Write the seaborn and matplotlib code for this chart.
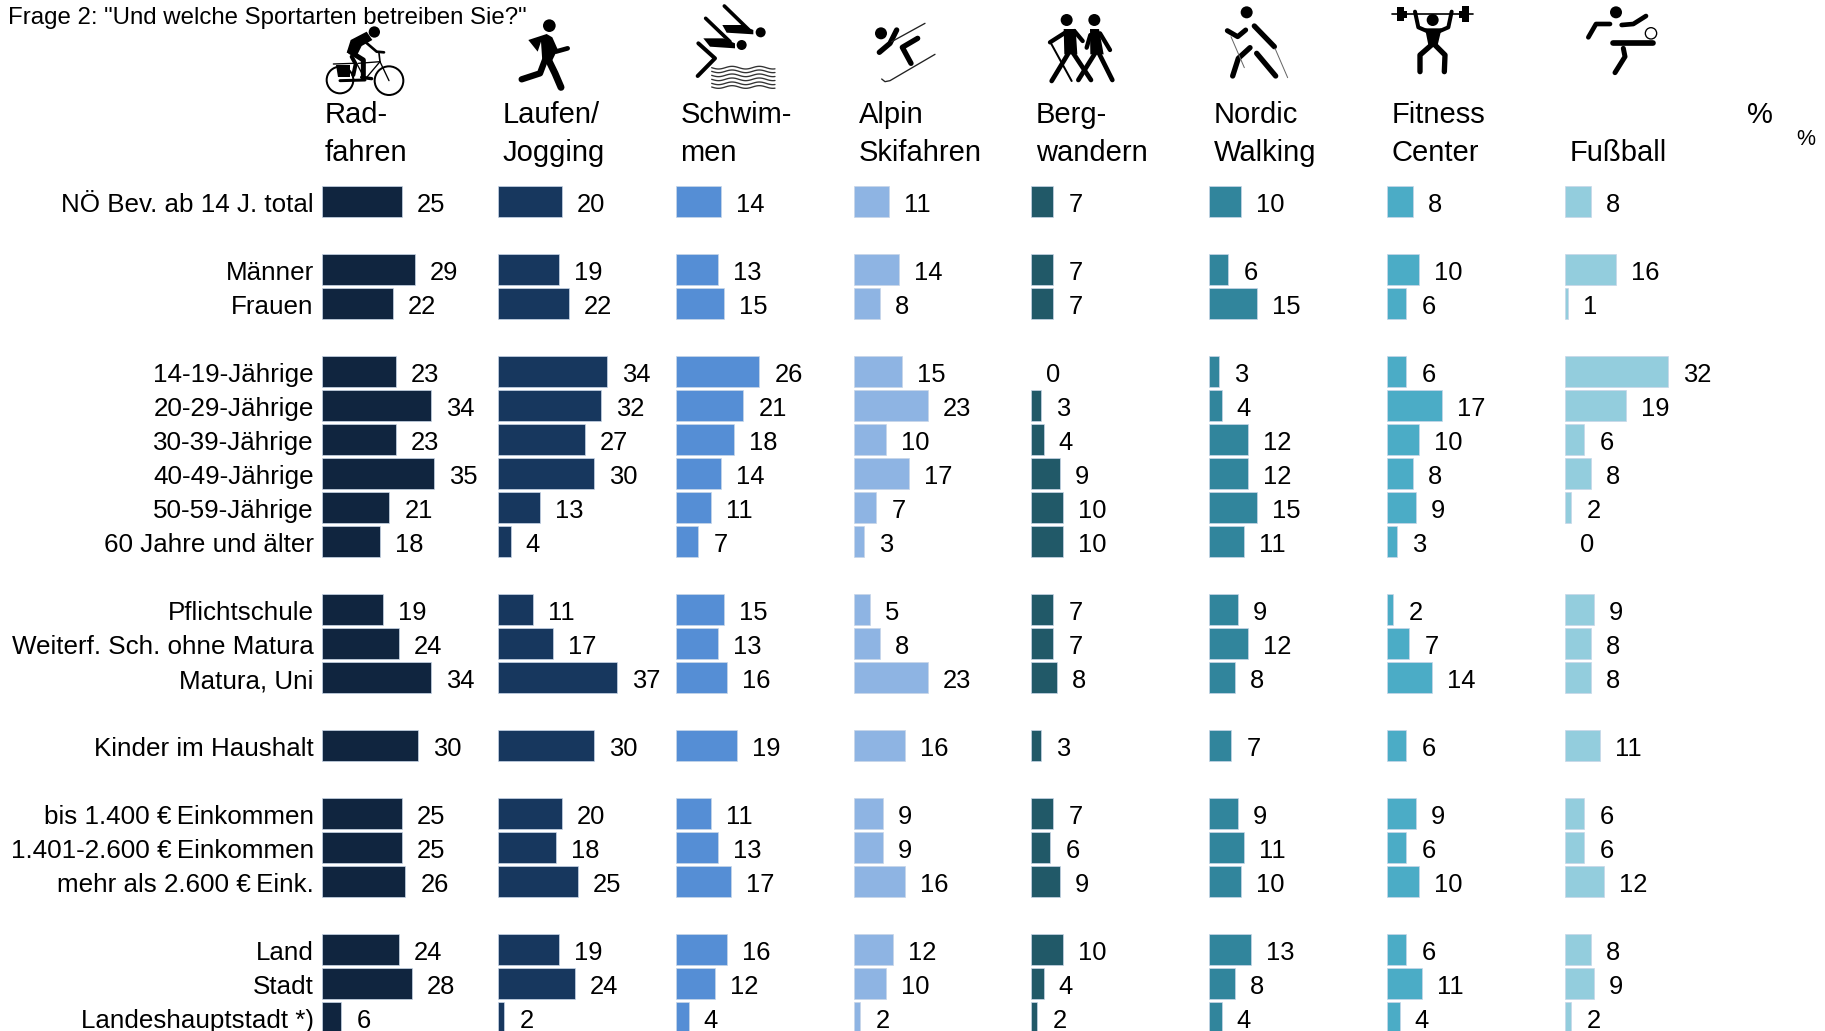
import numpy as np
import pandas as pd
import seaborn as sns
import matplotlib.pyplot as plt
from matplotlib.patches import Circle, Polygon
from matplotlib.transforms import ScaledTranslation

# Row labels per group, groups get one empty row between them
groups = [
    ['NÖ Bev. ab 14 J. total'],
    ['Männer', 'Frauen'],
    ['14-19-Jährige', '20-29-Jährige', '30-39-Jährige', '40-49-Jährige', '50-59-Jährige', '60 Jahre und älter'],
    ['Pflichtschule', 'Weiterf. Sch. ohne Matura', 'Matura, Uni'],
    ['Kinder im Haushalt'],
    ['bis 1.400 €\u2009Einkommen', '1.401-2.600 €\u2009Einkommen', 'mehr als 2.600 €\u2009Eink.'],
    ['Land', 'Stadt', 'Landeshauptstadt *)'],
]

radfahren = [25, 29, 22, 23, 34, 23, 35, 21, 18, 19, 24, 34, 30, 25, 25, 26, 24, 28, 6]
laufen = [20, 19, 22, 34, 32, 27, 30, 13, 4, 11, 17, 37, 30, 20, 18, 25, 19, 24, 2]
schwimmen = [14, 13, 15, 26, 21, 18, 14, 11, 7, 15, 13, 16, 19, 11, 13, 17, 16, 12, 4]
skifahren = [11, 14, 8, 15, 23, 10, 17, 7, 3, 5, 8, 23, 16, 9, 9, 16, 12, 10, 2]
bergwandern = [7, 7, 7, 0, 3, 4, 9, 10, 10, 7, 7, 8, 3, 7, 6, 9, 10, 4, 2]
nordic = [10, 6, 15, 3, 4, 12, 12, 15, 11, 9, 12, 8, 7, 9, 11, 10, 13, 8, 4]
fitness = [8, 10, 6, 6, 17, 10, 8, 9, 3, 2, 7, 14, 6, 9, 6, 10, 6, 11, 4]
fussball = [8, 16, 1, 32, 19, 6, 8, 2, 0, 9, 8, 8, 11, 6, 6, 12, 8, 9, 2]

series = [radfahren, laufen, schwimmen, skifahren, bergwandern, nordic, fitness, fussball]
headers = [('Rad-', 'fahren'), ('Laufen/', 'Jogging'), ('Schwim-', 'men'), ('Alpin', 'Skifahren'),
           ('Berg-', 'wandern'), ('Nordic', 'Walking'), ('Fitness', 'Center'), ('', 'Fußball')]
colors = ['#10253F', '#17375E', '#558ED5', '#8EB4E3', '#215968', '#31859C', '#4BACC6', '#93CDDD']

# Left edge of each bar column and of its header, in pixels
COL_X = [322, 498, 676, 854, 1031, 1209, 1387, 1565]
HEAD_X = [325, 503, 680.5, 858.5, 1036, 1214, 1392, 1570]
W, H = 1825, 1031
PX_PER_UNIT = 3.21
ROW_H = 34
FIRST_ROW_TOP = 184.5

sns.set_theme(style='white')
plt.rcParams['font.family'] = ['Liberation Sans', 'DejaVu Sans']
plt.rcParams['text.color'] = 'black'

# Spacer rows need unique names or the categorical axis merges them
rows = []
labels = []
for i, g in enumerate(groups):
    rows += g
    labels += g
    if i < len(groups) - 1:
        rows.append(' ' * (i + 1))
df = pd.DataFrame({'row': labels})

fig = plt.figure(figsize=(W / 100, H / 100), dpi=100, facecolor='white')

for n, vals in enumerate(series):
    col_w = 170
    ax = fig.add_axes([COL_X[n] / W, 1 - (FIRST_ROW_TOP + ROW_H * len(rows)) / H,
                       col_w / W, ROW_H * len(rows) / H])
    ax.patch.set_alpha(0)
    d = df.assign(value=vals)
    sns.barplot(data=d, x='value', y='row', order=rows, color=colors[n], saturation=1,
                width=0.94, orient='y', errorbar=None, ax=ax, edgecolor='#c8d6e8', linewidth=0.5)
    ax.set_xlim(0, col_w / PX_PER_UNIT)
    ax.set_ylim(len(rows) - 0.5, -0.5)
    ax.set_xlabel('')
    ax.set_ylabel('')
    ax.set_xticks([])
    texts = ax.bar_label(ax.containers[0], fmt='%d', padding=10.8, fontsize=18.4, color='black')
    for t in texts:
        t.xyann = (10.8, -2.4)
    # a zero still leaves a hairline from the edge colour
    for b in ax.containers[0]:
        if b.get_width() == 0:
            b.set_visible(False)
    ax.tick_params(axis='y', length=0, pad=6, labelsize=18.7, labelcolor='black')
    if n > 0:
        ax.set_yticks([])
    else:
        for lab in ax.get_yticklabels():
            lab.set_transform(lab.get_transform() + ScaledTranslation(0, -1 / 100, fig.dpi_scale_trans))
    sns.despine(ax=ax, left=True, bottom=True)

# Overlay in pixel coordinates for header texts and the pictograms
ov = fig.add_axes([0, 0, 1, 1], facecolor='none')
ov.set_xlim(0, W)
ov.set_ylim(H, 0)
ov.axis('off')

ov.text(8, 24, 'Frage 2: "Und welche Sportarten betreiben Sie?"', fontsize=17.3, va='baseline')
for x, (a, b) in zip(HEAD_X, headers):
    ov.text(x, 123, a, fontsize=21, va='baseline')
    ov.text(x, 161, b, fontsize=21, va='baseline')
ov.text(1747, 123, '%', fontsize=21, va='baseline')
ov.text(1796, 145, '%', fontsize=15.5, va='baseline')


def icon(ox, oy):
    # Pictograms were measured in 3x crops, so divide by three here
    def conv(p):
        return [(ox + x / 3, oy + y / 3) for x, y in p]

    def stroke(p, w, c='black', cap='round'):
        xy = np.array(conv(p))
        ov.plot(xy[:, 0], xy[:, 1], color=c, lw=w / 3 * 0.72, solid_capstyle=cap, solid_joinstyle='round')

    def dot(x, y, r, fc='black', ec='none', lw=0):
        ov.add_patch(Circle((ox + x / 3, oy + y / 3), r / 3, fc=fc, ec=ec, lw=lw * 0.24))

    def poly(p):
        ov.add_patch(Polygon(conv(p), closed=True, fc='black', ec='none'))

    return stroke, dot, poly


# Cyclist
s, d_, p = icon(315, 20)
d_(178, 36, 17)
p([(107, 60), (155, 35), (172, 60), (140, 78), (125, 108), (95, 98)])
s([(150, 65), (185, 95), (207, 97)], 8)
s([(105, 95), (145, 120), (145, 172)], 15)
s([(110, 110), (122, 132), (115, 165)], 12)
s([(140, 172), (170, 176)], 10)
d_(75, 180, 40, fc='none', ec='black', lw=6)
d_(222, 182, 43, fc='none', ec='black', lw=6)
s([(130, 130), (195, 125), (222, 182)], 4)
s([(195, 125), (150, 178), (125, 130)], 4)
s([(192, 100), (195, 125)], 5)
s([(55, 132), (115, 130)], 4)
s([(75, 182), (150, 180)], 9)
p([(62, 135), (105, 135), (105, 170), (68, 170)])

# Runner
s, d_, p = icon(505, 10)
d_(133, 47, 19)
p([(70, 90), (125, 72), (142, 82), (158, 118), (135, 165), (112, 155), (108, 95), (98, 125)])
s([(120, 150), (105, 190), (50, 208)], 19)
s([(128, 145), (150, 190), (168, 232)], 21)
s([(142, 110), (152, 125), (188, 115)], 14)

# Swimmer
s, d_, p = icon(685, 0)
d_(227, 97, 15)
d_(170, 135, 15)
s([(118, 18), (190, 88)], 11)
p([(112, 75), (170, 75), (205, 90), (205, 103), (125, 98)])
s([(62, 55), (135, 125)], 11)
p([(55, 115), (115, 115), (150, 130), (150, 145), (75, 140)])
s([(40, 130), (90, 175), (38, 228)], 12)
wave_x = np.linspace(80, 270, 60)
for wy in [203, 214, 226, 238, 250, 261]:
    s(list(zip(wave_x, wy + 4 * np.sin((wave_x - 80) / 13))), 4, c='#333333')

# Skier
s, d_, p = icon(865, 10)
d_(48, 70, 18)
s([(95, 60), (75, 100), (43, 127)], 16)
s([(158, 85), (112, 112), (138, 160)], 16)
s([(80, 95), (180, 40)], 4, c='#222222')
s([(50, 207), (60, 215), (75, 212), (210, 133)], 4, c='#222222')

# Two hikers
s, d_, p = icon(1035, 5)
d_(95, 45, 18)
d_(178, 45, 18)
p([(86, 72), (122, 72), (127, 148), (88, 148)])
s([(92, 82), (45, 112)], 13)
s([(118, 78), (143, 108)], 13)
s([(48, 115), (110, 228)], 6)
s([(100, 145), (50, 228)], 14)
s([(115, 145), (168, 225)], 14)
p([(165, 72), (192, 72), (206, 148), (166, 148)])
s([(195, 85), (225, 135)], 13)
s([(166, 90), (155, 128)], 13)
s([(180, 145), (130, 225)], 14)
s([(192, 145), (232, 225)], 14)

# Nordic walker
s, d_, p = icon(1215, 0)
d_(95, 37, 18)
s([(37, 92), (68, 110), (92, 90)], 15)
s([(118, 78), (178, 140)], 16)
s([(105, 143), (70, 175), (53, 228)], 16)
s([(125, 160), (182, 228)], 16)
s([(48, 110), (88, 203)], 3, c='#666666')
s([(180, 145), (218, 233)], 3, c='#666666')

# Weightlifter
s, d_, p = icon(1385, 0)
s([(22, 43), (265, 43)], 5)
for bx, bw, bt in [(35, 22, 22), (58, 8, 32), (222, 8, 32), (230, 22, 18)]:
    p([(bx, bt), (bx + bw, bt), (bx + bw, 85 - bt), (bx, 85 - bt)])
d_(143, 60, 18)
s([(90, 35), (100, 82), (130, 95)], 12)
s([(200, 35), (190, 82), (160, 95)], 12)
p([(120, 85), (170, 85), (158, 135), (130, 135)])
s([(145, 130), (105, 165), (105, 215)], 16)
s([(145, 130), (180, 165), (178, 215)], 16)

# Footballer
s, d_, p = icon(1575, 0)
d_(123, 37, 18)
s([(105, 72), (63, 72), (40, 112)], 14)
s([(140, 75), (175, 72), (213, 48)], 14)
s([(115, 130), (235, 130)], 17)
s([(145, 145), (150, 170), (120, 218)], 15)
d_(228, 100, 17, fc='white', ec='black', lw=4)

plt.savefig('out.png', dpi=100)
